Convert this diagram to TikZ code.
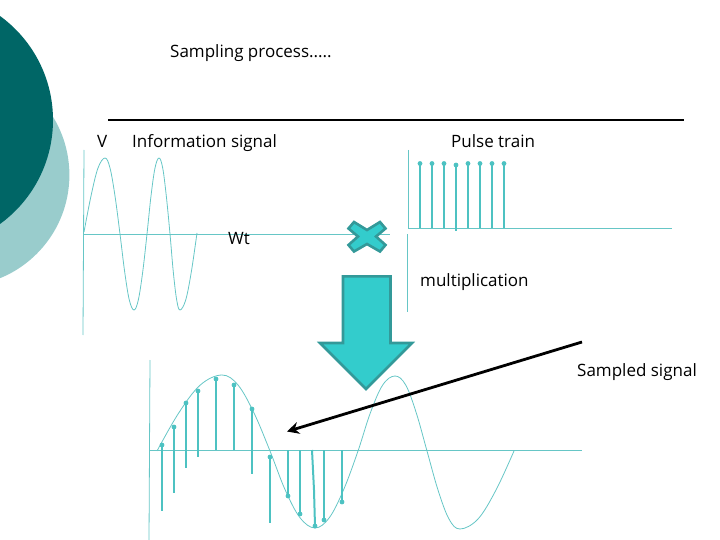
\documentclass[tikz,border=0pt]{standalone}
\usepackage{fontspec}
\setmainfont{Open Sans}
\usetikzlibrary{arrows.meta}
\definecolor{darkteal}{HTML}{006666}
\definecolor{paleteal}{HTML}{99CCCC}
\definecolor{wavecol}{HTML}{66C6C6}
\definecolor{pulsecol}{HTML}{4DC2C2}
\definecolor{blockfill}{HTML}{33CCCC}
\definecolor{blockedge}{HTML}{339999}
\tikzset{
  label/.style={font=\fontsize{17}{20}\selectfont,inner sep=0pt,text=black,anchor=base west},
  wave/.style={draw=wavecol,line width=.8pt},
  pulse/.style={draw=pulsecol,line width=2pt},
  block/.style={fill=blockfill,draw=blockedge,line width=2.6pt,line join=miter}
}
\begin{document}
\begin{tikzpicture}[x=1pt,y=-1pt]
\useasboundingbox (0,0) rectangle (720,540);
\begin{scope}
\clip (0,0) rectangle (720,540);
\fill[paleteal] (-42,175) circle (111.4);
\fill[darkteal] (-75.5,120) circle (128.5);
\end{scope}
\draw[line width=2pt] (108,120)--(684,120);
\node[label] (title) at (170,58){Sampling process.....};
\node[label] (vlabel) at (97,148){V};
\node[label] (infolabel) at (132,148){Information signal};
\node[label] (pulselabel) at (451,148){Pulse train};
% information signal
\draw[wave] (84,150)--(83,335);\draw[wave] (84,234)--(390,234);
\draw[wave] plot[smooth,tension=.6] coordinates {(84,232) (91,196) (98,168) (105,158) (110,168) (115,196) (120,234) (124.7,272) (129.3,300) (134,310) (138.3,300) (142.7,272) (147,234) (151,196) (155,168) (159,158) (162.7,168) (166.3,196) (170,234) (173.3,272) (176.7,300) (180,310) (185.7,300) (191.3,272) (197,233)};
\node[label] (wtlabel) at (228,244.5){Wt};
% pulse train
\draw[wave] (408.7,150)--(408.7,229);\draw[wave] (407.7,234)--(407.7,312);\draw[wave] (409,228.5)--(672,228.5);
\foreach \x/\y/\z in {420/163.5/228,432/163.5/228,444/163.5/228,456/165/231,468/163.5/228,480/163.5/228,492/163.5/228,504/163.5/228}{\draw[pulse] (\x,\y)--(\x,\z);\fill[pulsecol] (\x,\y) circle (2.4);}
% multiply sign and big arrow
\draw[block] (348.5,228.5)--(354,222)--(367,230)--(380,222)--(385.5,228.5)--(376,236.5)--(385.5,245)--(380,251.5)--(367,244)--(354,251.5)--(348.5,245)--(358,236.5)--cycle;
\node[label] (multlabel) at (420,286){multiplication};
\draw[block] (343,276.3)--(390.5,276.3)--(390.5,343)--(412,343)--(366,389)--(320,343)--(343,343)--cycle;
% sampled signal
\draw[wave] (150,360)--(149,540);\draw[wave] (150,450)--(582,450);
\draw[wave] plot[smooth,tension=.6] coordinates {(157,451) (178.7,413) (200.3,385) (222,375) (238,385) (254,413) (270,451) (285,489.5) (300,517.7) (315,528) (329.3,517.7) (343.7,489.5) (358,451) (370.3,413) (382.7,385) (395,376) (405.7,385) (416.3,413) (427,451) (438,490) (449,519) (460,529) (478,519) (496,490) (514,451)};
\foreach \x/\y/\z in {162/445/511,174/427/493,186/403/468,198/391/457,216/379/450,234/385/450,252/409/474,270/457/523}{\draw[pulse] (\x,\y)--(\x,\z);\fill[pulsecol] (\x,\y) circle (2.4);}
\foreach \x/\y/\z in {288/450/496,300/450/514,324/450/520,342/450/502}{\draw[pulse] (\x,\y)--(\x,\z);\fill[pulsecol] (\x,\z) circle (2.4);}
\draw[pulse] (312,450)--(314,490)--(315,526);\fill[pulsecol] (315,526) circle (2.4);
% pointer to the samples
\coordinate (pointerstart) at (582,342);\coordinate (pointerend) at (287,431.5);
\draw[-{Stealth[length=12pt,width=12pt]},line width=2.8pt] (pointerstart)--(pointerend);
\node[label] (sampledlabel) at (577,376){Sampled signal};
\end{tikzpicture}
\end{document}
